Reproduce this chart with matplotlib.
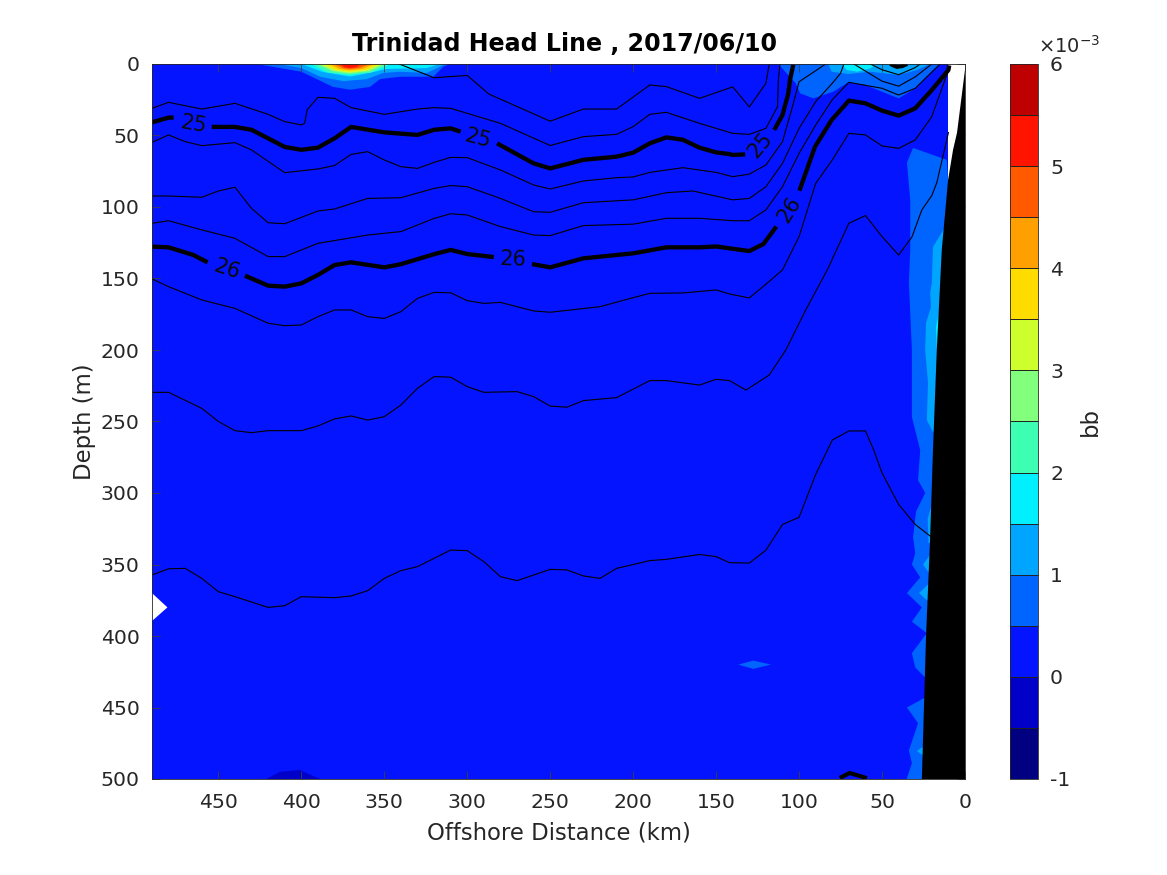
import matplotlib
matplotlib.use('Agg')
import matplotlib.pyplot as plt
from matplotlib.colors import ListedColormap, BoundaryNorm
from matplotlib.cm import ScalarMappable

TITLE = 'Trinidad Head Line , 2017/06/10'
XTICKS = [450, 400, 350, 300, 250, 200, 150, 100, 50, 0]
YTICKS = [0, 50, 100, 150, 200, 250, 300, 350, 400, 450, 500]
CB_TICKS = [-1, 0, 1, 2, 3, 4, 5, 6]
CB_LEVELS = [-1, -.5, 0, .5, 1, 1.5, 2, 2.5, 3, 3.5, 4, 4.5, 5, 5.5, 6]
CB_COLORS = ['#000080', '#0000c8', '#0514ff', '#0064ff', '#00a5ff', '#00f0ff', '#3cffb4',
             '#82ff7d', '#cdff2d', '#ffdc00', '#ffa000', '#ff5a00', '#ff1400', '#be0000']
C_DARK, C_BASE, C_1, C_2, C_3, C_4, C_5, C_6, C_7, C_8, C_9, C_10 = CB_COLORS[1:13]

# density contours: (km, depth)
t1_km = [341,320,300,287,250,230,210,190,180,160,140,130,120,118]
t1_d = [0,9.6,8,21,40,31.5,31.5,14.7,15.8,24,16,30,13.5,0]
a_km = [490,480,460,440,420,410,400,398,396.5,390,380,370,350,330,320,310,280,250,230,210,200,190,180,160,140,130,120,113,112.5,111.5]
a_d = [31,26.8,31.5,27.5,35.2,40.3,42.6,41.5,32,23.3,24,30.5,35.2,31.5,30.5,31,41.5,57,50.8,49.2,43.8,35.2,33.8,41.5,48.5,49.2,45,29.8,11,0]
c_km = [490,480,470,460,440,430,410,390,380,370,360,350,340,330,320,310,300,280,260,250,230,210,200,190,170,150,140,130,120,110,104,100,90,84]
c_d = [54.8,49.6,54.3,57.1,55,60.1,76,73.4,71,63.2,61.3,67.1,71.8,73,68.8,65.3,65.5,74.1,84.6,87.4,81.8,79.5,79,75.8,72.5,75.8,78.8,77,70.6,54.3,29.8,12.4,4.7,0]
d_km = [490,480,460,450,440,430,420,410,390,380,360,340,320,310,300,280,260,250,230,200,180,164,140,130,120,110,100,90,80,75,73]
d_d = [92.3,92.3,93.2,88.8,86.2,101,111,111.7,102.8,101.4,94,93.5,87,85,85.8,94,103.3,103.7,97,95,90,88.8,95,94,85.8,69.5,45,26.3,13.5,6.5,0]
e_km = [490,480,460,440,420,410,390,360,340,320,310,300,280,260,250,230,200,180,160,140,130,120,110,100,90,80,70,50,40,30,15]
e_d = [111.4,109.6,116,121.9,134.7,134.7,125.4,119.6,117.2,108,104.7,105.6,113.7,119.6,120,113,112,107.9,107.9,109.6,109.6,102,85.8,62.5,42.7,25,12.8,17,21.7,17,0]
g_km = [490,480,460,440,420,410,400,390,380,370,360,350,340,330,320,310,300,290,280,260,250,220,200,190,170,150,142,130,120,110,100,90,80,70,60,50,40,30,20,10]
g_d = [150.3,155.7,165,170.9,181.3,183,182.5,176.7,172,172,176.7,177.9,173.2,163.9,159.7,160,165.5,167.4,166.7,172.7,173.6,169.7,163.4,160.4,160.1,158,160.8,163.6,154,144,120.7,83.5,67.1,48.5,49.6,57.3,59,53.1,36.8,4.2]
h_km = [490,480,460,450,440,430,420,400,390,380,370,360,350,340,330,320,310,300,290,270,260,250,240,230,210,190,180,160,150,142,132,118,108,96,83,70,60,50,40,32,26,20,17,10]
h_d = [229.6,229.6,240.8,250,256.4,257.8,256.4,256.4,253.1,248.2,246.1,249,246.6,238.5,226.8,218.6,219,225.6,229.6,229.1,232.6,239.2,240,235.4,233.3,221.4,221.4,224.5,220.5,221.4,228,217.5,200,172,144,111.4,106,120.7,133.6,121,102,92,83,48]
i_km = [490,480,470,460,450,440,420,410,400,380,370,360,350,340,330,320,310,300,290,280,270,250,240,230,220,210,190,180,160,150,142,130,120,110,100,90,80,70,60,55,50,40,30,20]
i_d = [357.3,353,352.7,359.7,369,372.5,380,378.8,372.5,373.2,372,368.3,359.7,354.3,351.5,345.7,339.9,340.3,348,358.5,361.3,353.4,353.8,358,359.7,352.7,347.3,346.4,343,344.5,348.7,349,340,322,317,287,263,256.6,256.6,270,286,308,322,331]
l1_km = [67,50,40,30,20]
l1_d = [0,12,15.5,9,0]
l2_km = [57,50,40,30,27]
l2_d = [0,4,7.5,2.5,0]

thick_25_km = [[490,480,477],
               [454,440,430,420,410,400,390,380,370,350,330,320,310,304],
               [282,260,250,230,210,200,190,180,170,160,150,142,140,132.5],
               [115,110,106.5,105.5,103.5]]
thick_25_d = [[40.8,37.5,37.5],
              [44,44,46,52,58,60,58.5,52,44,47.8,49.6,46,45,47.3],
              [55.5,69.5,73,67,64.8,62,55.5,51.3,53,58.5,61.8,63,63.6,63.2],
              [46.1,35.7,20.5,11.2,0.5]]
thick_26_km = [[490,480,465,456.5],
               [434,420,410,400,390,380,370,350,340,320,310,300,284],
               [261,250,230,200,180,160,150,130,121.5,113.7],
               [99.8,90.4,80.4,70,60,50,40,30,20,10,9.5]]
thick_26_d = [[127.7,128.2,133.6,138.7],
              [148,155,155.7,153.4,147.5,140.6,138.7,142.2,140,133,130,132.9,135],
              [139.9,142.2,135.9,132.4,128.2,128.2,127.6,130.8,125.9,113.7],
              [88.6,57.8,39.2,25.6,27.5,32.6,36.1,31,18.2,4.2,1]]
blob_top_km = [44,41,38,36]
blob_top_d = [0.5,2,1.5,0.5]
blob_bottom_km = [74.3,69.5,60.3]
blob_bottom_d = [498.6,495.8,499]

label_km = [465, 293.5, 123.5, 445, 272.6, 105.9]
label_d = [42, 52, 56.6, 143.3, 136.6, 102]
label_txt = ['25', '25', '25', '26', '26', '26']
label_rot = [-10, -15, 50, -18, -2, 58]

# filled regions: (km, depth)
base_km = [490,10.2,10.2,5,5,490]
base_d = [0,0,81,81,500,500]
notch_km = [490,480.7,490]
notch_d = [370,380,389.5]
shore_km = [0,0,4.8,7.2,10.2,14,17,19.3,21,23.5,26,26,0]
shore_d = [0,4,48,60,81,130,200,270,331,400.7,500,500,500]

b1a_km = [11,31.3,35,33,33,33.8,32,32,27,28.3,24,29.5,31.3,30,32,27,35,26,32,23,32,30,24,10,9,10.2]
b1a_d = [67,58.7,69,95,130,153,200,247,270,291,300,313,331,342,350,359,370,380,390,398,412,422,429,429,90,81]
b1b_km = [24,35,28.3,33.8,32,35,35,10,10]
b1b_d = [443,450,461,480,489,499.3,500,500,443]
b2a_km = [12,19.3,19.5,20,21,20.5,23.5,24,22.3,23,19.5,10,8]
b2a_d = [114,128,135,153,160,170,181,200,223,249,257,257,114]
b2b_km = [20.5,22.5,22,15,15]
b2b_d = [310,318,335,335,310]
b2c_km = [21,25.3,22.3,15,15]
b2c_d = [343,350,355,355,343]
b2d_km = [22.3,27.7,23,15,15]
b2d_d = [364,370,375,375,364]
b2e_km = [26,29,26,15,15]
b2e_d = [478,480.5,483,483,478]
b3a_km = [15.7,17.5,16.9,10,10]
b3a_d = [174,184,200,200,174]

s1_km = [427,400,381,370.6,358.6,352.6,340.5,320.4,314.5,310.4]
s1_d = [0,5.4,16,18,16,10.6,8.9,8.9,2,0]
s2_km = [414,400,388.7,374.8,360.6,350.8,340.5,324.4,316.4,313]
s2_d = [0,2.8,8.9,12,10.6,6.3,5.4,6.3,1.9,0]
s3_km = [400,387,370.6,356.5,348.6,324.4,316.4]
s3_d = [0,5.6,8.8,5.6,3.5,2.8,0]
s4_km = [394,384,371,358,346]
s4_d = [0,6,7.6,6,0]
s5_km = [391,381,371,359,349]
s5_d = [0,5.2,6.8,5.2,0]
s6_km = [389,380,371,360,351]
s6_d = [0,4.6,6,4.6,0]
s7_km = [386,379,371,361,353]
s7_d = [0,4,5.2,4,0]
s8_km = [383,377,371,363,356]
s8_d = [0,3.4,4.4,3.4,0]
s9_km = [380,375,371,365,359]
s9_d = [0,2.9,3.6,2.9,0]
s10_km = [377,374,371,367,364]
s10_d = [0,2.3,2.8,2.3,0]

n1_km = [112.5,102,99.4,91.4,79.4,70.3,60,50,40,30,19,15]
n1_d = [0,13.5,20.5,24,19.4,12.8,14.7,19.4,24,17,4,0]
n2_km = [82.4,80.4,70.3,57,40,28.9,21]
n2_d = [0,5.4,7,5.4,7.7,4.2,0]
n3_km = [74.3,71.3,65,57,53]
n3_d = [0,4.2,5.4,3,0]
n4_km = [47,40,33]
n4_d = [0,3.7,0]
spot_km = [136.6,127.6,117,127.6]
spot_d = [420,417.2,420,423]
dark_km = [421,413,401,388.7]
dark_d = [500,495,493.7,500]

W, H = 1167, 875
fig = plt.figure(figsize=(W / 100, H / 100), dpi=100)
ax = fig.add_axes([152 / W, 1 - 779 / H, 813 / W, 715 / H])
ax.set_facecolor('white')

fills = [(base_km, base_d, C_BASE), (dark_km, dark_d, C_DARK), (spot_km, spot_d, C_1),
         (b1a_km, b1a_d, C_1), (b1b_km, b1b_d, C_1), (b2a_km, b2a_d, C_2), (b2b_km, b2b_d, C_2),
         (b2c_km, b2c_d, C_2), (b2d_km, b2d_d, C_2), (b2e_km, b2e_d, C_2), (b3a_km, b3a_d, C_3),
         (n1_km, n1_d, C_1), (n2_km, n2_d, C_2), (n3_km, n3_d, C_3), (n4_km, n4_d, C_3),
         (s1_km, s1_d, C_1), (s2_km, s2_d, C_2), (s3_km, s3_d, C_3), (s4_km, s4_d, C_4),
         (s5_km, s5_d, C_5), (s6_km, s6_d, C_6), (s7_km, s7_d, C_7), (s8_km, s8_d, C_8),
         (s9_km, s9_d, C_9), (s10_km, s10_d, C_10), (notch_km, notch_d, 'white')]
for xs, ys, col in fills:
    ax.fill(xs, ys, color=col, lw=0, zorder=1)

thin = [(t1_km, t1_d), (a_km, a_d), (c_km, c_d), (d_km, d_d), (e_km, e_d), (g_km, g_d),
        (h_km, h_d), (i_km, i_d), (l1_km, l1_d), (l2_km, l2_d)]
for xs, ys in thin:
    ax.plot(xs, ys, color='black', lw=0.8, zorder=3)
for xsets, ysets in [(thick_25_km, thick_25_d), (thick_26_km, thick_26_d)]:
    for xs, ys in zip(xsets, ysets):
        ax.plot(xs, ys, color='black', lw=3.1, zorder=3, solid_capstyle='butt', solid_joinstyle='round')
ax.plot(blob_top_km, blob_top_d, color='black', lw=3, zorder=3)
ax.plot(blob_bottom_km, blob_bottom_d, color='black', lw=3, zorder=3)

ax.fill(shore_km, shore_d, color='black', lw=0, zorder=4)

for x, y, s, r in zip(label_km, label_d, label_txt, label_rot):
    ax.text(x, y, s, fontsize=15, rotation=r, rotation_mode='anchor', ha='center', va='center',
            color='#0a0a0a', zorder=5)

ax.set_xlim(490, 0)
ax.set_ylim(500, 0)
ax.set_xticks(XTICKS)
ax.set_yticks(YTICKS)
ax.set_axisbelow(False)
ax.tick_params(direction='in', top=True, right=True, length=5.8, width=0.6, color='#404040',
               labelcolor='#262626', labelsize=14.7, zorder=6)
ax.tick_params(axis='x', pad=10)
ax.tick_params(axis='y', pad=9)
for sp in ax.spines.values():
    sp.set_linewidth(0.6)
    sp.set_color('#262626')
    sp.set_zorder(6)
ax.set_xlabel('Offshore Distance (km)', fontsize=16.4, color='#262626', labelpad=7)
ax.set_ylabel('Depth (m)', fontsize=16.4, color='#262626', labelpad=3)
ax.set_title(TITLE, fontsize=17.1, fontweight='bold', color='black', pad=9, x=0.507)

cax = fig.add_axes([1010 / W, 1 - 779 / H, 27.5 / W, 715 / H])
cmap = ListedColormap(CB_COLORS)
norm = BoundaryNorm(CB_LEVELS, cmap.N)
cb = fig.colorbar(ScalarMappable(norm=norm, cmap=cmap), cax=cax, ticks=CB_TICKS, drawedges=True,
                  spacing='proportional')
cb.dividers.set_color('#202020')
cb.dividers.set_linewidth(0.7)
cb.outline.set_linewidth(0.6)
cb.outline.set_edgecolor('#262626')
cb.minorticks_off()
cax.tick_params(length=0, labelsize=14.7, labelcolor='#262626', pad=9)
cax.set_yticks(CB_TICKS)
cax.set_yticklabels([str(t) for t in CB_TICKS])
cb.set_label('bb', fontsize=16.4, color='#262626', labelpad=6)
fig.text(1038 / W, 1 - 53 / H, r'$\times\mathdefault{10^{-3}}$', fontsize=14, color='#262626', va='baseline')

fig.savefig('out.png', dpi=100)
